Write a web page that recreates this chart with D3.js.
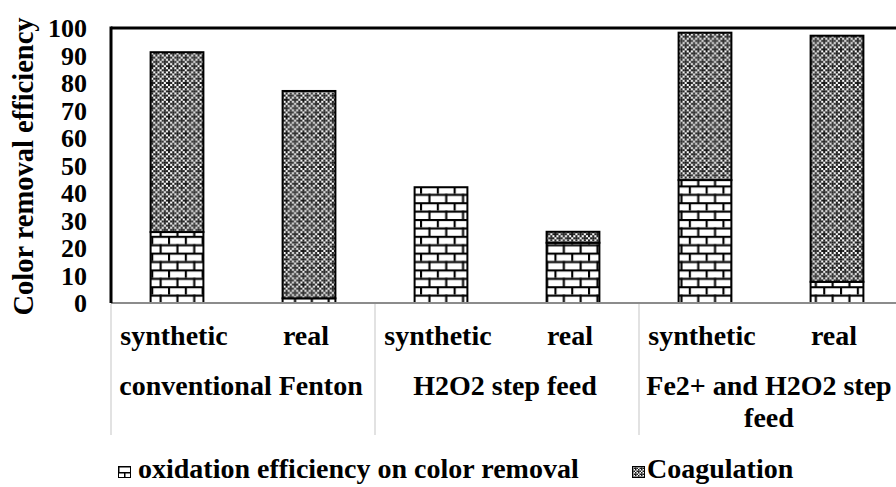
<!DOCTYPE html>
<html>
<head>
<meta charset="utf-8">
<script src="https://cdn.jsdelivr.net/npm/d3@7"></script>
<style>
  html, body { margin: 0; padding: 0; background: #fff; }
  svg { display: block; }
  text { font-family: "Liberation Serif", "Times New Roman", serif; font-weight: bold; fill: #000; }
</style>
</head>
<body>
<svg id="chart" width="896" height="487"></svg>
<script>
// Color removal efficiency per process and wastewater type
const groups = ["conventional Fenton", "H2O2 step feed", "Fe2+ and H2O2 step feed"];
const samples = ["synthetic", "real"];
const oxidation = [25.8, 1.7, 42.1, 21.9, 44.7, 7.7];
const coagulation = [65.4, 75.4, 0, 4.0, 53.6, 89.5];
const yTicks = [0, 10, 20, 30, 40, 50, 60, 70, 80, 90, 100];
const seriesNames = ["oxidation efficiency on color removal", "Coagulation"];
const yTitle = "Color removal efficiency";

const svg = d3.select("#chart");
const plot = { left: 111, right: 903, top: 28, bottom: 303 };
const FS = 28;

// one row per bar
const rows = [];
groups.forEach((g, gi) => samples.forEach((s, si) => {
  const i = gi * samples.length + si;
  rows.push({ key: g + "|" + s, group: g, sample: s, ox: oxidation[i], co: coagulation[i] });
}));

const x = d3.scaleBand()
  .domain(rows.map(d => d.key))
  .range([plot.left, plot.right])
  .paddingInner(0.6)
  .paddingOuter(0.3);
const y = d3.scaleLinear().domain([0, 100]).range([plot.bottom, plot.top]);

const stacked = d3.stack().keys(["ox", "co"])(rows);

// fill patterns: horizontal brick and dotted diamond
const defs = svg.append("defs");
function brick(id, u, ox, oy) {
  const p = defs.append("pattern").attr("id", id)
    .attr("patternUnits", "userSpaceOnUse")
    .attr("width", 8 * u).attr("height", 8 * u)
    .attr("patternTransform", `translate(${ox},${oy})`);
  p.append("rect").attr("width", 8 * u).attr("height", 8 * u).attr("fill", "#fff");
  p.append("rect").attr("x", 0).attr("y", 0).attr("width", 8 * u).attr("height", u).attr("fill", "#000");
  p.append("rect").attr("x", 0).attr("y", 4 * u).attr("width", 8 * u).attr("height", u).attr("fill", "#000");
  p.append("rect").attr("x", 0).attr("y", 0).attr("width", u).attr("height", 4 * u).attr("fill", "#000");
  p.append("rect").attr("x", 4 * u).attr("y", 4 * u).attr("width", u).attr("height", 4 * u).attr("fill", "#000");
}
function diamond(id, u, ox, oy) {
  const bits = [
    "10101010",
    "01110111",
    "10101010",
    "11011101",
    "10101010",
    "01110111",
    "10101010",
    "11011101"
  ];
  const p = defs.append("pattern").attr("id", id)
    .attr("patternUnits", "userSpaceOnUse")
    .attr("width", 8 * u).attr("height", 8 * u)
    .attr("patternTransform", `translate(${ox},${oy})`);
  p.append("rect").attr("width", 8 * u).attr("height", 8 * u).attr("fill", "#fff");
  bits.forEach((r, ri) => r.split("").forEach((b, ci) => {
    if (b === "1") p.append("rect").attr("x", ci * u).attr("y", ri * u)
      .attr("width", u).attr("height", u).attr("fill", "#1a1a1a");
  }));
}
brick("brick", 2.1, 0, plot.bottom);
diamond("diamond", 2.1, 0, 0);
brick("brickIcon", 1.5, 118, 466);
diamond("diamondIcon", 1.5, 632, 466);
const fills = ["url(#brick)", "url(#diamond)"];
const iconFills = ["url(#brickIcon)", "url(#diamondIcon)"];

// frame: black top and right edges
svg.append("line").attr("x1", plot.left).attr("x2", plot.right)
  .attr("y1", plot.top).attr("y2", plot.top)
  .attr("stroke", "#000").attr("stroke-width", 3);
svg.append("line").attr("x1", plot.right).attr("x2", plot.right)
  .attr("y1", plot.top).attr("y2", plot.bottom)
  .attr("stroke", "#000").attr("stroke-width", 3);

// bars
stacked.forEach((layer, li) => {
  svg.append("g").selectAll("rect")
    .data(layer.filter(d => d[1] - d[0] > 0))
    .join("rect")
    .attr("x", d => x(d.data.key))
    .attr("width", x.bandwidth())
    .attr("y", d => y(d[1]))
    .attr("height", d => y(d[0]) - y(d[1]))
    .attr("fill", fills[li])
    .attr("stroke", "#000")
    .attr("stroke-width", 2);
});

// gray category axis and black value-axis edge
svg.append("line").attr("x1", plot.left).attr("x2", plot.right)
  .attr("y1", plot.bottom).attr("y2", plot.bottom)
  .attr("stroke", "#8c8c8c").attr("stroke-width", 2);
svg.append("line").attr("x1", plot.left).attr("x2", plot.left)
  .attr("y1", plot.top - 1.5).attr("y2", plot.bottom)
  .attr("stroke", "#000").attr("stroke-width", 3);

// y axis labels
const yAxis = d3.axisLeft(y).tickValues(yTicks).tickSize(0).tickPadding(24);
const gy = svg.append("g").attr("transform", `translate(${plot.left},0)`).call(yAxis);
gy.select(".domain").remove();
gy.selectAll("text")
  .attr("font-family", "Liberation Serif, Times New Roman, serif")
  .attr("font-weight", "bold")
  .attr("font-size", 26)
  .attr("fill", "#000")
  .attr("dy", "0.33em");

svg.append("text")
  .attr("transform", `translate(33,${(plot.top + plot.bottom) / 2 + 1}) rotate(-90)`)
  .attr("text-anchor", "middle")
  .attr("font-size", 28.5)
  .text(yTitle);

// category table below the axis
const groupW = x.step() * samples.length;
const dividers = d3.range(groups.length + 1).map(i => plot.left + i * groupW);
svg.append("g").selectAll("line").data(dividers).join("line")
  .attr("x1", d => d).attr("x2", d => d)
  .attr("y1", plot.bottom + 1).attr("y2", 435)
  .attr("stroke", "#d9d9d9").attr("stroke-width", 1.5);

svg.append("g").selectAll("text").data(rows).join("text")
  .attr("x", d => x(d.key) + x.bandwidth() / 2 - 3)
  .attr("y", 345)
  .attr("text-anchor", "middle")
  .attr("font-size", FS)
  .text(d => d.sample);

const wrapWidth = groupW - 8;
groups.forEach((g, gi) => {
  const cx = plot.left + gi * groupW + groupW / 2 - 2;
  const t = svg.append("text").attr("text-anchor", "middle").attr("font-size", FS);
  // word wrap inside the group cell
  const words = g.split(" ");
  const lines = [];
  let cur = "";
  const probe = svg.append("text").attr("font-size", FS).attr("visibility", "hidden");
  words.forEach(w => {
    const test = cur ? cur + " " + w : w;
    probe.text(test);
    if (probe.node().getComputedTextLength() > wrapWidth && cur) { lines.push(cur); cur = w; }
    else cur = test;
  });
  lines.push(cur);
  probe.remove();
  lines.forEach((ln, li) => t.append("tspan").attr("x", cx).attr("y", 395 + li * 32).text(ln));
});

// legend
const legendItems = [
  { name: seriesNames[0], ix: 118, tx: 138 },
  { name: seriesNames[1], ix: 632, tx: 647 }
];
legendItems.forEach((d, i) => {
  svg.append("rect").attr("x", d.ix + 0.5).attr("y", 466.5).attr("width", 12).attr("height", 11)
    .attr("fill", iconFills[i]).attr("stroke", "#000").attr("stroke-width", 1);
  svg.append("text").attr("x", d.tx).attr("y", 478).attr("font-size", FS).text(d.name);
});
</script>
</body>
</html>
